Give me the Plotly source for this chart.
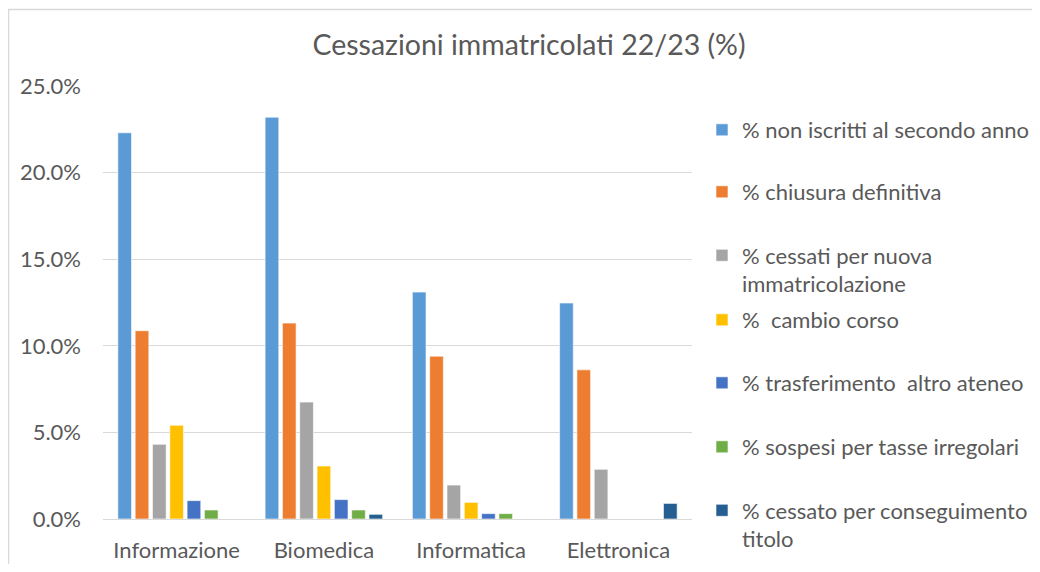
import plotly.graph_objects as go

categories = ["Informazione", "Biomedica", "Informatica", "Elettronica"]
series_names = [
    "% non iscritti al secondo anno",
    "% chiusura definitiva",
    "% cessati per nuova<br>immatricolazione",
    "%  cambio corso",
    "% trasferimento  altro ateneo",
    "% sospesi per tasse irregolari",
    "% cessato per conseguimento<br>titolo",
]
non_iscritti = [0.223, 0.232, 0.131, 0.1247]
chiusura = [0.1087, 0.1131, 0.094, 0.0861]
nuova_immatricolazione = [0.0431, 0.0675, 0.0196, 0.0287]
cambio_corso = [0.0541, 0.0306, 0.0096, 0.0]
trasferimento = [0.0106, 0.0112, 0.0031, 0.0]
sospesi = [0.0052, 0.0052, 0.0031, 0.0]
conseguimento_titolo = [0.0, 0.0027, 0.0, 0.009]
y_ticks = [0, 0.05, 0.10, 0.15, 0.20, 0.25]

series_values = [non_iscritti, chiusura, nuova_immatricolazione, cambio_corso,
                 trasferimento, sospesi, conseguimento_titolo]
colors = ["#5B9BD5", "#ED7D31", "#A5A5A5", "#FFC000", "#4472C4", "#70AD47", "#255E91"]

OFF = 8  # page body margin
W, H = 1024, 556
L, R, T, B = 95, 340, 78, 45
PW, PH = W - L - R, H - T - B
def px_x(p):
    return (p - OFF - L) / PW
def px_y(p):
    return (H - B - (p - OFF)) / PH

# vertical centre (page px) of each legend entry's text block
legend_centers = [130, 192, 270, 320, 383, 447, 525]
txt = "#595959"
font_family = "Lato, Open Sans, sans-serif"

fig = go.Figure()
layout_legends = {}
for i, (name, vals, col) in enumerate(zip(series_names, series_values, colors)):
    key = "legend" if i == 0 else f"legend{i+1}"
    fig.add_trace(go.Bar(
        x=categories, y=vals, name=name,
        marker=dict(color=col, line=dict(color="white", width=0.6)),
        legend=key,
    ))
    layout_legends[key] = dict(
        x=px_x(702), xanchor="left",
        y=px_y(legend_centers[i]), yanchor="middle",
        valign="top",
        font=dict(family=font_family, size=22, color=txt),
        bgcolor="rgba(0,0,0,0)",
    )

fig.update_layout(
    width=W, height=H,
    margin=dict(l=L, r=R, t=T, b=B, autoexpand=False),
    paper_bgcolor="white", plot_bgcolor="white",
    barmode="group", bargap=0.177, bargroupgap=0.21,
    title=dict(text="Cessazioni immatricolati 22/23 (%)", x=(529 - OFF) / W, xanchor="center",
               y=1 - (45 - OFF) / H, yanchor="middle",
               font=dict(family=font_family, size=28.5, color=txt)),
    font=dict(family=font_family, color=txt),
    showlegend=True,
    **layout_legends,
)
fig.update_yaxes(range=[0, 0.25], tickvals=y_ticks, tickformat=".1%",
                 showgrid=True, gridcolor="#D9D9D9", gridwidth=1,
                 zeroline=False, showline=False, ticks="", automargin=False,
                 ticklabelstandoff=21,
                 tickfont=dict(family=font_family, size=22, color=txt))
fig.update_xaxes(showline=True, linecolor="#D9D9D9", linewidth=1, ticks="",
                 automargin=False, ticklabelstandoff=12,
                 tickfont=dict(family=font_family, size=22, color=txt))

fig.add_shape(type="rect", xref="paper", yref="paper",
              x0=px_x(8.5), x1=px_x(1100), y0=px_y(700), y1=px_y(9.5),
              line=dict(color="#D9D9D9", width=1.5), fillcolor="rgba(0,0,0,0)",
              layer="below")

fig.write_html("out.html")
